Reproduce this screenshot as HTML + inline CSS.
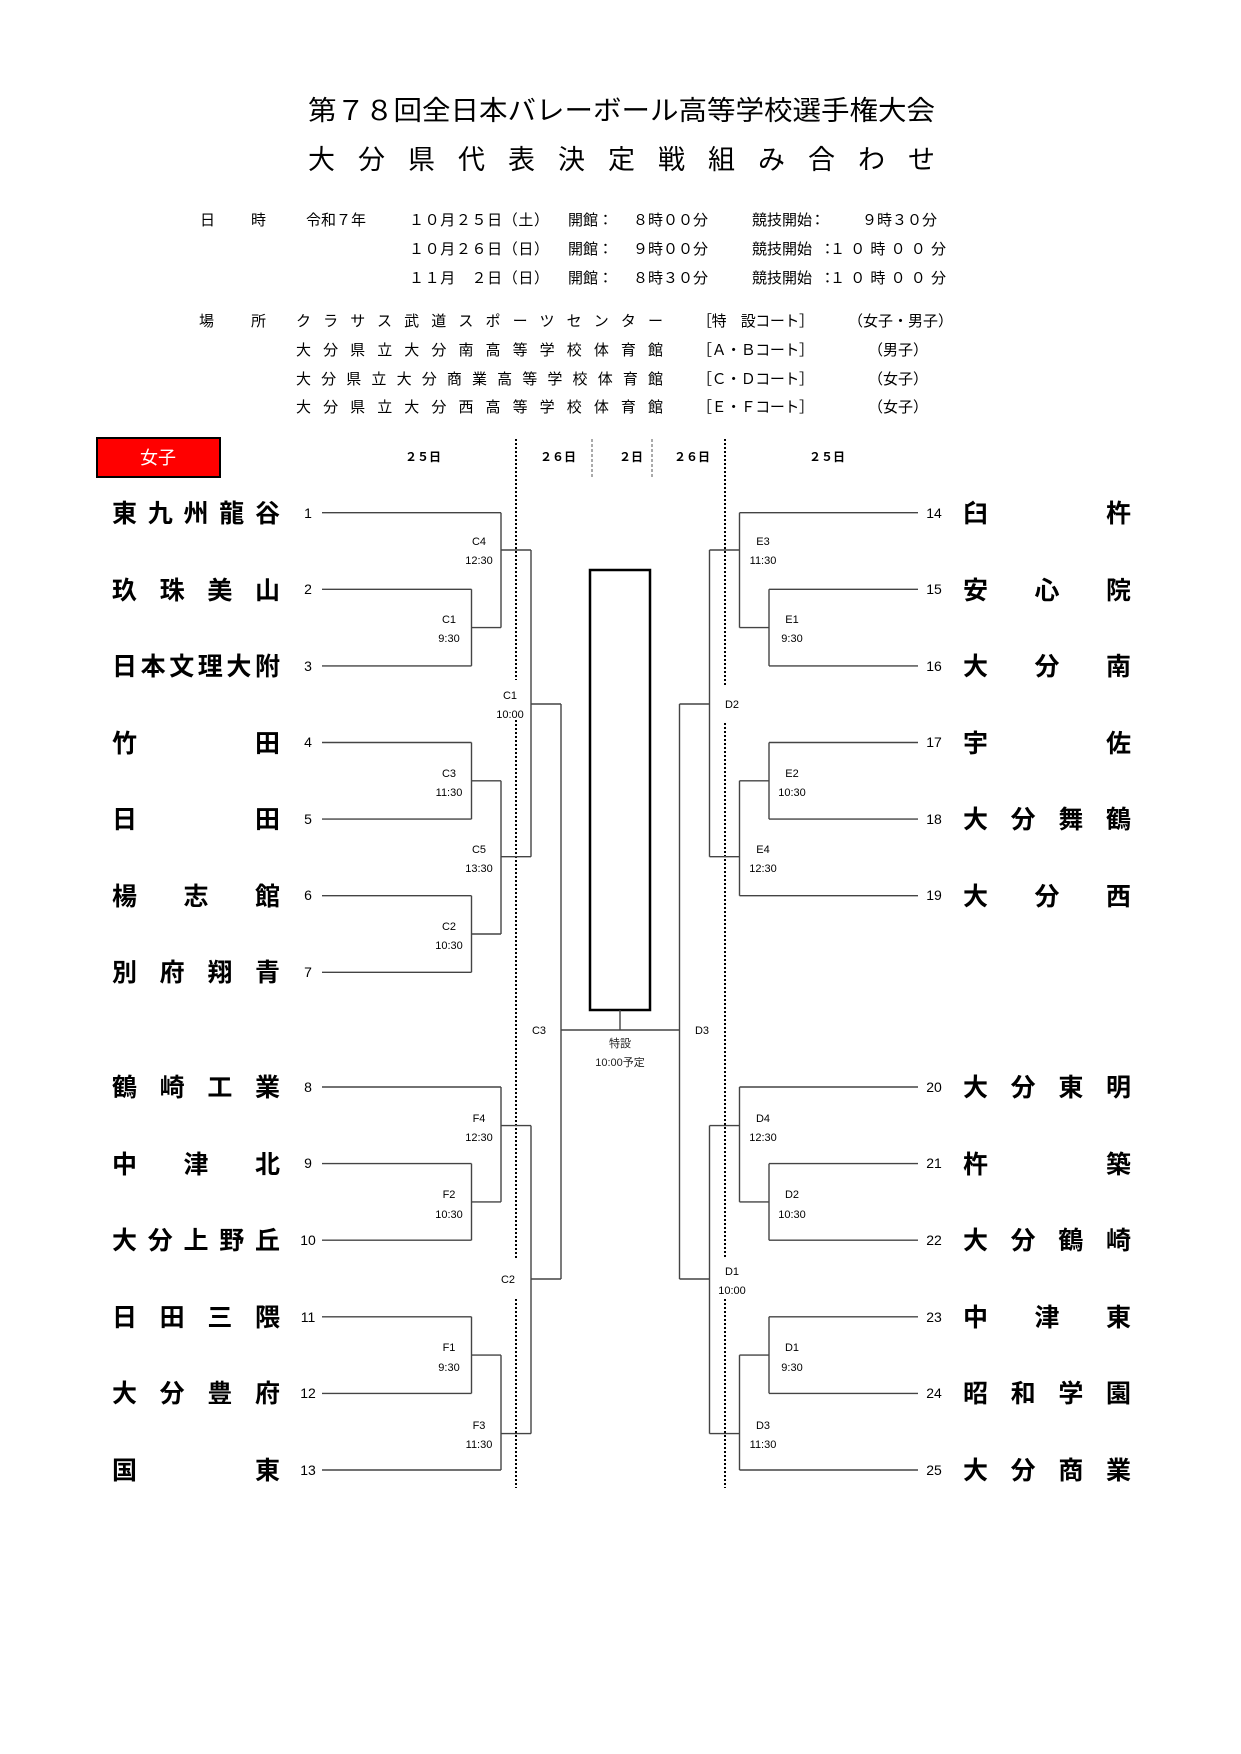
<!DOCTYPE html>
<html><head><meta charset="utf-8">
<style>
html,body{margin:0;padding:0;background:#fff;}
svg{display:block;}
text{font-family:"Liberation Sans","Noto Sans CJK JP",sans-serif;fill:#000;}
.t{font-size:15px;}
.n{font-size:25px;font-weight:bold;}
.num{font-size:14px;fill:#333;}
.lb{font-size:11px;fill:#222;text-anchor:middle;}
.ln{stroke:#444;stroke-width:1.4;fill:none;}
.dot{stroke:#000;stroke-width:2;stroke-dasharray:2,2;}
</style></head><body>
<svg width="1241" height="1754" viewBox="0 0 1241 1754" xmlns="http://www.w3.org/2000/svg">
<!-- titles -->
<text x="308" y="120" style="font-size:27px" textLength="627" lengthAdjust="spacingAndGlyphs">第７８回全日本バレーボール高等学校選手権大会</text>
<text x="308" y="169" style="font-size:27px" textLength="627" lengthAdjust="spacing">大分県代表決定戦組み合わせ</text>
<!-- dates -->
<g class="t">
<text x="200" y="225">日</text><text x="251" y="225">時</text>
<text x="306" y="225">令和７年</text>
<text x="409" y="225" textLength="140" lengthAdjust="spacing">１０月２５日（土）</text>
<text x="409" y="254" textLength="140" lengthAdjust="spacing">１０月２６日（日）</text>
<text x="409" y="283" textLength="140" lengthAdjust="spacing">１１月　２日（日）</text>
<text x="568" y="225">開館：</text><text x="568" y="254">開館：</text><text x="568" y="283">開館：</text>
<text x="633" y="225">８時００分</text><text x="633" y="254">９時００分</text><text x="633" y="283">８時３０分</text>
<text x="752" y="225">競技開始</text><text x="752" y="254">競技開始</text><text x="752" y="283">競技開始</text>
<text x="810" y="225">：</text><text x="820" y="254">：</text><text x="820" y="283">：</text>
<text x="862" y="225">９時３０分</text><text x="830" y="254" textLength="116" lengthAdjust="spacing">１０時００分</text><text x="830" y="283" textLength="116" lengthAdjust="spacing">１０時００分</text>
<text x="199" y="326">場</text><text x="251" y="326">所</text>
<text x="296" y="326" textLength="367" lengthAdjust="spacing">クラサス武道スポーツセンター</text>
<text x="296" y="355" textLength="367" lengthAdjust="spacing">大分県立大分南高等学校体育館</text>
<text x="296" y="384" textLength="367" lengthAdjust="spacing">大分県立大分商業高等学校体育館</text>
<text x="296" y="412" textLength="367" lengthAdjust="spacing">大分県立大分西高等学校体育館</text>
<text x="697" y="326" textLength="117" lengthAdjust="spacing">［特　設コート］</text>
<text x="697" y="355" textLength="117" lengthAdjust="spacing">［Ａ・Ｂコート］</text>
<text x="697" y="384" textLength="117" lengthAdjust="spacing">［Ｃ・Ｄコート］</text>
<text x="697" y="412" textLength="117" lengthAdjust="spacing">［Ｅ・Ｆコート］</text>
<text x="848" y="326">（女子・男子）</text>
<text x="868" y="355">（男子）</text><text x="868" y="384">（女子）</text><text x="868" y="412">（女子）</text>
</g>
<!-- red box -->
<rect x="97" y="438" width="123" height="39" fill="#f00" stroke="#000" stroke-width="2"/>
<text x="158" y="464" style="font-size:18px;fill:#fff" text-anchor="middle">女子</text>
<!-- day headers -->
<g style="font-size:12px;font-weight:bold" text-anchor="middle">
<text x="423" y="461">２５日</text><text x="558" y="461">２６日</text><text x="631" y="461">２日</text><text x="692" y="461">２６日</text><text x="827" y="461">２５日</text>
</g>
<!-- dotted lines -->
<line class="dot" x1="516" y1="439" x2="516" y2="680"/><line class="dot" x1="516" y1="720" x2="516" y2="1259"/><line class="dot" x1="516" y1="1299" x2="516" y2="1488"/>
<line class="dot" x1="725" y1="439" x2="725" y2="685"/><line class="dot" x1="725" y1="723" x2="725" y2="1259"/><line class="dot" x1="725" y1="1299" x2="725" y2="1488"/>
<line x1="592" y1="439" x2="592" y2="477" stroke="#555" stroke-width="1" stroke-dasharray="3,2"/>
<line x1="652" y1="439" x2="652" y2="477" stroke="#555" stroke-width="1" stroke-dasharray="3,2"/>
<!-- center box -->
<rect x="590" y="570" width="60" height="440" fill="none" stroke="#000" stroke-width="2.5"/>
<path class="ln" d="M620 1010V1030M561 1030H680"/>
<text class="lb" x="620" y="1047">特設</text><text class="lb" x="620" y="1066">10:00予定</text>
<!-- left bracket -->
<path class="ln" d="
M322 512.7H501 M322 589.3H471.5 M322 665.9H471.5 M322 742.5H471.5 M322 819.1H471.5 M322 895.7H471.5 M322 972.3H471.5
M322 1087H501 M322 1163.6H471.5 M322 1240.2H471.5 M322 1316.8H471.5 M322 1393.4H471.5 M322 1470H501
M471.5 589.3V665.9 M471.5 627.6H501 M471.5 742.5V819.1 M471.5 780.8H501 M471.5 895.7V972.3 M471.5 934H501
M471.5 1163.6V1240.2 M471.5 1201.9H501 M471.5 1316.8V1393.4 M471.5 1355.1H501
M501 512.7V627.6 M501 550H531 M501 780.8V934 M501 856.7H531 M501 1087V1201.9 M501 1125.6H531 M501 1355.1V1470 M501 1433.6H531
M531 550V856.7 M531 704H561 M531 1125.6V1433.6 M531 1279H561 M561 704V1279"/>
<!-- right bracket -->
<path class="ln" d="
M918 512.7H739.5 M918 589.3H769 M918 665.9H769 M918 742.5H769 M918 819.1H769 M918 895.7H739.5
M918 1087H739.5 M918 1163.6H769 M918 1240.2H769 M918 1316.8H769 M918 1393.4H769 M918 1470H739.5
M769 589.3V665.9 M769 627.6H739.5 M769 742.5V819.1 M769 780.8H739.5
M769 1163.6V1240.2 M769 1201.9H739.5 M769 1316.8V1393.4 M769 1355.1H739.5
M739.5 512.7V627.6 M739.5 550H709.5 M739.5 780.8V895.7 M739.5 856.7H709.5 M739.5 1087V1201.9 M739.5 1125.6H709.5 M739.5 1355.1V1470 M739.5 1433.6H709.5
M709.5 550V856.7 M709.5 704H679.5 M709.5 1125.6V1433.6 M709.5 1279H679.5 M679.5 704V1279"/>
<!-- labels -->
<g class="lb">
<text x="479" y="545">C4</text><text x="479" y="564">12:30</text>
<text x="449" y="623">C1</text><text x="449" y="642">9:30</text>
<text x="510" y="699">C1</text><text x="510" y="718">10:00</text>
<text x="449" y="777">C3</text><text x="449" y="796">11:30</text>
<text x="479" y="853">C5</text><text x="479" y="872">13:30</text>
<text x="449" y="930">C2</text><text x="449" y="949">10:30</text>
<text x="539" y="1034">C3</text>
<text x="479" y="1122">F4</text><text x="479" y="1141">12:30</text>
<text x="449" y="1198">F2</text><text x="449" y="1218">10:30</text>
<text x="508" y="1283">C2</text>
<text x="449" y="1351">F1</text><text x="449" y="1371">9:30</text>
<text x="479" y="1429">F3</text><text x="479" y="1448">11:30</text>
<text x="763" y="545">E3</text><text x="763" y="564">11:30</text>
<text x="792" y="623">E1</text><text x="792" y="642">9:30</text>
<text x="732" y="708">D2</text>
<text x="792" y="777">E2</text><text x="792" y="796">10:30</text>
<text x="763" y="853">E4</text><text x="763" y="872">12:30</text>
<text x="702" y="1034">D3</text>
<text x="763" y="1122">D4</text><text x="763" y="1141">12:30</text>
<text x="792" y="1198">D2</text><text x="792" y="1218">10:30</text>
<text x="732" y="1275">D1</text><text x="732" y="1294">10:00</text>
<text x="792" y="1351">D1</text><text x="792" y="1371">9:30</text>
<text x="763" y="1429">D3</text><text x="763" y="1448">11:30</text>
</g>
<!-- numbers -->
<g class="num" text-anchor="middle">
<text x="308" y="518">1</text><text x="308" y="594">2</text><text x="308" y="671">3</text><text x="308" y="747">4</text><text x="308" y="824">5</text><text x="308" y="900">6</text><text x="308" y="977">7</text>
<text x="308" y="1092">8</text><text x="308" y="1168">9</text><text x="308" y="1245">10</text><text x="308" y="1322">11</text><text x="308" y="1398">12</text><text x="308" y="1475">13</text>
<text x="934" y="518">14</text><text x="934" y="594">15</text><text x="934" y="671">16</text><text x="934" y="747">17</text><text x="934" y="824">18</text><text x="934" y="900">19</text>
<text x="934" y="1092">20</text><text x="934" y="1168">21</text><text x="934" y="1245">22</text><text x="934" y="1322">23</text><text x="934" y="1398">24</text><text x="934" y="1475">25</text>
</g>
<!-- team names -->
<g class="n">
<text y="522" x="112" textLength="168" lengthAdjust="spacing">東九州龍谷</text>
<text y="599" x="112" textLength="168" lengthAdjust="spacing">玖珠美山</text>
<text y="675" x="112" textLength="168" lengthAdjust="spacing">日本文理大附</text>
<text y="752" x="112" textLength="168" lengthAdjust="spacing">竹田</text>
<text y="828" x="112" textLength="168" lengthAdjust="spacing">日田</text>
<text y="905" x="112" textLength="168" lengthAdjust="spacing">楊志館</text>
<text y="981" x="112" textLength="168" lengthAdjust="spacing">別府翔青</text>
<text y="1096" x="112" textLength="168" lengthAdjust="spacing">鶴崎工業</text>
<text y="1173" x="112" textLength="168" lengthAdjust="spacing">中津北</text>
<text y="1249" x="112" textLength="168" lengthAdjust="spacing">大分上野丘</text>
<text y="1326" x="112" textLength="168" lengthAdjust="spacing">日田三隈</text>
<text y="1402" x="112" textLength="168" lengthAdjust="spacing">大分豊府</text>
<text y="1479" x="112" textLength="168" lengthAdjust="spacing">国東</text>
<text y="522" x="963" textLength="168" lengthAdjust="spacing">臼杵</text>
<text y="599" x="963" textLength="168" lengthAdjust="spacing">安心院</text>
<text y="675" x="963" textLength="168" lengthAdjust="spacing">大分南</text>
<text y="752" x="963" textLength="168" lengthAdjust="spacing">宇佐</text>
<text y="828" x="963" textLength="168" lengthAdjust="spacing">大分舞鶴</text>
<text y="905" x="963" textLength="168" lengthAdjust="spacing">大分西</text>
<text y="1096" x="963" textLength="168" lengthAdjust="spacing">大分東明</text>
<text y="1173" x="963" textLength="168" lengthAdjust="spacing">杵築</text>
<text y="1249" x="963" textLength="168" lengthAdjust="spacing">大分鶴崎</text>
<text y="1326" x="963" textLength="168" lengthAdjust="spacing">中津東</text>
<text y="1402" x="963" textLength="168" lengthAdjust="spacing">昭和学園</text>
<text y="1479" x="963" textLength="168" lengthAdjust="spacing">大分商業</text>
</g>
</svg>
</body></html>
